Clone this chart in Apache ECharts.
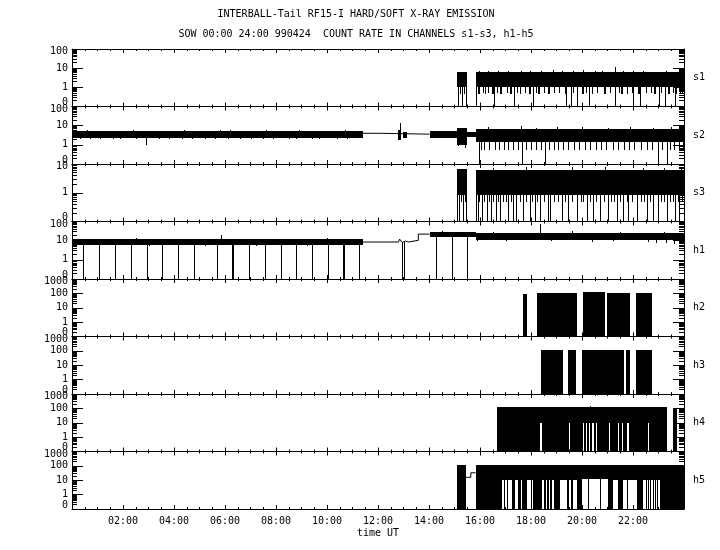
<!DOCTYPE html>
<html><head><meta charset="utf-8">
<script src="https://cdn.jsdelivr.net/npm/echarts@6/dist/echarts.min.js"></script>
<style>html,body{margin:0;padding:0;background:#fff}#c{width:720px;height:550px}</style>
</head><body><div id="c"></div>
<script>
// ---------------- DATA ----------------
const titleLine1 = 'INTERBALL-Tail RF15-I HARD/SOFT X-RAY EMISSION';
const titleLine2 = 'SOW 00:00 24:00 990424  COUNT RATE IN CHANNELS s1-s3, h1-h5';
const channelNames = ['s1','s2','s3','h1','h2','h3','h4','h5'];
const channelMax = [100,100,10,100,1000,1000,1000,1000];
const timeTickLabels = ['02:00','04:00','06:00','08:00','10:00','12:00','14:00','16:00','18:00','20:00','22:00'];
const xAxisTitle = 'time UT';

// blocks: [t0 (h), t1 (h), low count, high count]  (0 = zero count)
// strokes: [t (h), low count, high count]
// traces: [t (h), count]
const s1Blocks = [[15.09,15.50,1.1,6.3],[15.83,24.0,1.1,6.0]];
const s1Strokes = [
 [15.12,0,1.1],[15.29,0,1.1],[15.46,0,1.1],[15.85,0,1.1],[16.56,0,1.1],[17.33,0,1.1],[18.08,0,1.1],[19.37,0,1.1],[19.57,0,1.1],[19.79,0,1.1],[20.29,0,1.1],[21.29,0,1.1],[22.01,0,1.1],[22.27,0,1.1],[23.02,0,1.1],[23.25,0,1.1],[23.65,0,1.1],
 [15.20,0.45,1.1],[15.38,0.45,1.1],[15.92,0.45,1.1],[15.96,0.45,1.1],[16.13,0.5,1.1],[16.21,0.45,1.1],[16.30,0.5,1.1],[16.48,0.45,1.1],[16.52,0.45,1.1],[16.68,0.5,1.1],[16.80,0.45,1.1],[16.84,0.45,1.1],[17.05,0.5,1.1],[17.18,0.45,1.1],[17.22,0.45,1.1],[17.45,0.5,1.1],[17.57,0.45,1.1],[17.75,0.5,1.1],[17.93,0.45,1.1],[17.97,0.45,1.1],[18.20,0.5,1.1],[18.29,0.45,1.1],[18.33,0.45,1.1],[18.50,0.5,1.1],[18.67,0.45,1.1],[18.71,0.45,1.1],[18.90,0.5,1.1],[19.10,0.5,1.1],[19.32,0.45,1.1],[19.36,0.45,1.1],[19.65,0.5,1.1],[19.99,0.45,1.1],[20.03,0.45,1.1],[20.15,0.5,1.1],[20.38,0.45,1.1],[20.60,0.5,1.1],[20.88,0.45,1.1],[20.92,0.45,1.1],[21.10,0.5,1.1],[21.45,0.5,1.1],[21.54,0.45,1.1],[21.58,0.45,1.1],[21.75,0.45,1.1],[21.95,0.5,1.1],[22.21,0.45,1.1],[22.25,0.45,1.1],[22.50,0.5,1.1],[22.70,0.5,1.1],[22.82,0.45,1.1],[22.86,0.45,1.1],[23.10,0.5,1.1],[23.39,0.45,1.1],[23.43,0.45,1.1],[23.55,0.5,1.1],[23.66,0.45,1.1],[23.70,0.45,1.1],[23.85,0.5,1.1],[23.92,0.45,1.1],
 [15.95,5.5,7.0],[16.30,5.5,7.2],[16.70,5.5,6.8],[17.10,5.5,7.4],[17.60,5.5,7.0],[17.95,5.5,7.5],[18.40,5.5,7.2],[18.85,5.5,7.6],[19.20,5.5,7.0],[19.65,5.5,7.3],[20.05,5.5,7.8],[20.50,5.5,7.1],[20.80,5.5,7.4],[21.28,5.5,11.5],[21.60,5.5,7.2],[22.00,5.5,6.8],[22.40,5.5,7.0],[22.90,5.5,6.6],[23.30,5.5,7.0],[23.80,5.5,6.8]
];
const s1Trace = [];

const s2Blocks = [[0.0,11.40,2.3,4.9],[12.80,12.92,2.0,5.5],[12.98,13.15,2.4,4.6],[14.02,15.09,2.4,4.9],[15.09,15.50,1.1,7.0],[15.50,15.83,2.8,4.6],[15.84,24.0,1.5,6.5]];
const s2Trace = [[11.40,4.0],[12.08,4.0],[12.08,3.6],[14.02,3.6]];
const s2Strokes = [
 [12.88,4,14],
 [0.6,4.6,5.6],[1.5,4.6,5.3],[2.4,4.6,5.8],[3.3,4.6,5.4],[4.4,4.6,5.6],[5.3,4.6,5.2],[6.2,4.6,6.0],[7.1,4.6,5.5],[8.0,4.6,5.3],[8.9,4.6,5.7],[9.8,4.6,5.4],[10.7,4.6,5.6],
 [0.9,4.6,5.4],[1.9,4.6,5.5],[2.8,4.6,5.4],[4.0,4.6,5.5],[4.9,4.6,5.4],[5.8,4.6,5.6],[6.7,4.6,5.4],[7.6,4.6,5.6],[8.4,4.6,5.5],[9.3,4.6,5.4],[10.3,4.6,5.5],
 [2.90,1.0,2.6],[0.3,1.9,2.6],[1.1,2.0,2.6],[1.9,2.1,2.6],[3.8,1.9,2.6],[4.7,2.0,2.6],[5.6,2.1,2.6],[6.6,2.0,2.6],[7.5,1.9,2.6],[8.5,2.1,2.6],[9.4,2.0,2.6],[10.4,1.9,2.6],
 [0.7,2.0,2.6],[1.6,2.0,2.6],[2.5,2.0,2.6],[3.4,2.0,2.6],[4.3,2.0,2.6],[5.2,2.0,2.6],[6.1,2.0,2.6],[7.0,2.0,2.6],[7.9,2.0,2.6],[8.8,2.0,2.6],[9.7,2.0,2.6],[10.8,2.0,2.6],
 [15.96,0,1.5],[17.66,0,1.5],[18.55,0,1.5],[22.99,0,1.5],[23.32,0,1.5],
 [15.15,0.86,1.1],[15.40,0.7,1.1],
 [16.02,0.55,1.5],[16.15,0.55,1.5],[16.35,0.55,1.5],[16.60,0.55,1.5],[16.75,0.55,1.5],[16.95,0.55,1.5],[17.10,0.55,1.5],[17.30,0.55,1.5],[17.50,0.55,1.5],[17.80,0.55,1.5],[18.00,0.55,1.5],[18.20,0.55,1.5],[18.40,0.55,1.5],[18.70,0.55,1.5],[18.90,0.55,1.5],[19.05,0.55,1.5],[19.25,0.55,1.5],[19.45,0.55,1.5],[19.70,0.55,1.5],[19.90,0.55,1.5],[20.10,0.55,1.5],[20.30,0.55,1.5],[20.55,0.55,1.5],[20.75,0.55,1.5],[20.95,0.55,1.5],[21.20,0.55,1.5],[21.40,0.55,1.5],[21.65,0.55,1.5],[21.85,0.55,1.5],[22.05,0.55,1.5],[22.30,0.55,1.5],[22.55,0.55,1.5],[22.75,0.55,1.5],[23.15,0.55,1.5],[23.45,0.55,1.5],[23.60,0.55,1.5],[23.80,0.55,1.5],[23.95,0.55,1.5],
 [16.3,6.5,8.5],[17.6,6.5,10.0],[18.2,6.5,8.0],[19.0,6.5,8.2],[20.0,6.5,8.6],[21.0,6.5,8.0],[21.9,6.5,8.4],[22.8,6.5,8.0],[23.5,6.5,8.2]
];

const s3Blocks = [[15.09,15.50,0.9,6.5],[15.84,24.0,0.9,5.8]];
const s3Trace = [];
const s3Strokes = [
 [15.11,0,0.9],[15.19,0,0.9],[15.32,0,0.9],[15.46,0,0.9],[15.85,0,0.9],[15.93,0,0.9],[16.06,0,0.9],[16.26,0,0.9],[16.42,0,0.9],[16.63,0,0.9],[16.78,0,0.9],[17.08,0,0.9],[17.30,0,0.9],[17.43,0,0.9],[17.67,0,0.9],[17.96,0,0.9],[18.16,0,0.9],[18.35,0,0.9],[18.68,0,0.9],[18.75,0,0.9],[19.20,0,0.9],[19.46,0,0.9],[19.79,0,0.9],[20.18,0,0.9],[20.44,0,0.9],[20.71,0,0.9],[21.03,0,0.9],[21.36,0,0.9],[21.62,0,0.9],[21.82,0,0.9],[22.17,0,0.9],[22.54,0,0.9],[22.80,0,0.9],[22.99,0,0.9],[23.32,0,0.9],[23.65,0,0.9],[23.82,0,0.9],
 [15.24,0.49,0.9],[15.40,0.49,0.9],[15.98,0.49,0.9],[16.15,0.49,0.9],[16.35,0.49,0.9],[16.52,0.49,0.9],[16.70,0.49,0.9],[16.90,0.49,0.9],[17.00,0.49,0.9],[17.20,0.49,0.9],[17.55,0.49,0.9],[17.80,0.49,0.9],[18.05,0.49,0.9],[18.25,0.49,0.9],[18.50,0.49,0.9],[18.90,0.49,0.9],[19.05,0.49,0.9],[19.35,0.49,0.9],[19.60,0.49,0.9],[19.95,0.49,0.9],[20.05,0.49,0.9],[20.30,0.49,0.9],[20.55,0.49,0.9],[20.85,0.49,0.9],[21.15,0.49,0.9],[21.25,0.49,0.9],[21.50,0.49,0.9],[21.75,0.49,0.9],[21.95,0.49,0.9],[22.30,0.49,0.9],[22.45,0.49,0.9],[22.65,0.49,0.9],[23.10,0.49,0.9],[23.20,0.49,0.9],[23.45,0.49,0.9],[23.55,0.49,0.9],[23.75,0.49,0.9],[23.92,0.49,0.9],
 [16.5,5.8,7.5],[17.8,5.8,7.8],[19.6,5.8,8.0],[20.9,5.8,7.6],[22.4,5.8,7.4],[23.2,5.8,7.0],[23.9,5.8,7.8]
];

const h1Blocks = [[0.0,11.40,6.2,11.2],[14.02,15.85,17,27],[15.85,24.0,12,25]];
const h1Trace = [[11.40,8.5],[12.80,8.5],[12.85,12],[12.90,15],[12.95,8],[13.00,6.5],[13.08,9.5],[13.12,8.5],[13.19,8.5],[13.19,10.4],[13.58,10.4],[13.58,22],[14.02,22]];
const h1Strokes = [
 [0.43,0,6.2],[1.06,0,6.2],[1.69,0,6.2],[2.31,0,6.2],[2.94,0,6.2],[3.53,0,6.2],[4.16,0,6.2],[4.78,0,6.2],[5.69,0,6.2],[6.29,0,6.2],[6.33,0,6.2],[6.94,0,6.2],[7.57,0,6.2],[8.20,0,6.2],[8.78,0,6.2],[9.41,0,6.2],[10.04,0,6.2],[10.61,0,6.2],[10.65,0,6.2],[11.25,0,6.2],
 [12.96,0,8.5],[13.03,0,8.5],[14.27,0,17],[14.91,0,17],[15.50,0,17],
 [5.84,11,19.7],[1.0,11,12.5],[2.5,11,13],[4.0,11,12.5],[6.8,11,12.8],[8.5,11,12.5],[10.0,11,13],[0.5,11,12.3],[3.2,11,12.6],[7.6,11,12.4],[9.3,11,12.6],
 [3.0,5.5,6.2],[7.2,5.4,6.2],[9.2,5.5,6.2],[1.4,5.6,6.2],[5.2,5.5,6.2],[10.3,5.6,6.2],
 [18.35,24,74],[14.5,26,32],[16.5,24,30],[19.6,24,32],[21.5,24,30],[23.2,21,28],
 [15.9,10,13],[17.0,10,13],[18.8,10,13],[20.4,9,12],[21.2,9.5,12],[22.6,8.5,12],[22.9,7.5,12],[23.3,8,12],[23.6,7,12],[23.9,8,12]
];

const h2Blocks = [[17.67,17.83,0,86],[18.24,19.79,0,100],[20.03,20.90,0,110],[20.98,21.88,0,95],[22.12,22.75,0,100]];
const h3Blocks = [[18.38,19.24,0,100],[19.44,19.75,0,100],[19.99,21.66,0,105],[21.73,21.88,0,100],[22.10,22.75,0,100]];
const h4Blocks = [
 [16.68,23.35,10,112],
 [16.68,18.37,0,10],[18.42,19.48,0,10],[19.53,20.03,0,10],[20.07,20.09,0,10],[20.12,20.15,0,10],[20.19,20.21,0,10],[20.25,20.28,0,10],[20.32,20.41,0,10],[20.46,20.54,0,10],[20.59,21.06,0,10],[21.11,21.42,0,10],[21.47,21.55,0,10],[21.60,21.78,0,10],[21.83,22.57,0,10],[22.62,23.35,0,10],
 [23.55,23.72,0,100]
];
const h4Strokes = [[18.9,112,130],[19.7,112,135],[20.3,112,140],[21.0,112,130],[21.9,112,125],[17.3,112,122]];
const h5Blocks = [
 [15.09,15.45,0,110],[15.83,19.99,12,110],[19.99,21.03,14,110],[21.03,24.0,12,110],
 [15.83,16.85,0,12],[16.93,16.96,0,12],[17.05,17.11,0,12],[17.24,17.37,0,12],[17.50,17.60,0,12],[17.66,17.83,0,12],[17.99,18.02,0,12],[18.09,18.42,0,12],[18.50,18.52,0,12],[18.56,18.58,0,12],[18.62,18.64,0,12],[18.68,18.70,0,12],[18.74,18.76,0,12],[18.80,18.82,0,12],[18.90,19.14,0,12],[19.42,19.50,0,12],[19.56,19.66,0,12],[19.79,19.99,0,12],[20.25,20.28,0,14],[20.70,20.73,0,14],[21.03,21.23,0,12],[21.42,21.62,0,12],[21.75,21.82,0,12],[22.14,22.40,0,12],[22.50,22.53,0,12],[22.58,22.61,0,12],[22.66,22.69,0,12],[22.80,22.83,0,12],[22.88,22.91,0,12],[22.96,22.99,0,12],[23.06,24.0,0,12]
];
const h5Trace = [[15.45,16],[15.64,16],[15.64,33],[15.83,33]];

// ---------------- CHART ----------------
const panels = [
 {blocks:s1Blocks, strokes:s1Strokes, trace:s1Trace},
 {blocks:s2Blocks, strokes:s2Strokes, trace:s2Trace},
 {blocks:s3Blocks, strokes:s3Strokes, trace:s3Trace},
 {blocks:h1Blocks, strokes:h1Strokes, trace:h1Trace},
 {blocks:h2Blocks, strokes:[], trace:[]},
 {blocks:h3Blocks, strokes:[], trace:[]},
 {blocks:h4Blocks, strokes:h4Strokes, trace:[]},
 {blocks:h5Blocks, strokes:[], trace:h5Trace}
];
const FONT = 'DejaVu Sans Mono';
const TOP0 = 49, PH = 57.5, LEFT = 72, RIGHT = 36;
const YMIN = 0.1;
const zf = v => (v <= 0 ? YMIN : v);

function rectRender(params, api){
  const a = api.coord([api.value(0), api.value(3)]);
  const b = api.coord([api.value(1), api.value(2)]);
  const x0 = Math.round(a[0]), x1 = Math.max(Math.round(b[0]), x0 + 1);
  const y0 = Math.floor(a[1]), y1 = Math.ceil(b[1]);
  return {type:'rect', shape:{x:x0, y:y0, width:x1 - x0, height:Math.max(y1 - y0, 1)}, style:{fill:'#000'}};
}
function strokeRender(params, api){
  const a = api.coord([api.value(0), api.value(2)]);
  const b = api.coord([api.value(0), api.value(1)]);
  const x = Math.round(a[0]) + 0.5;
  return {type:'line', shape:{x1:x, y1:Math.round(a[1]), x2:x, y2:Math.round(b[1])}, style:{stroke:'#000', lineWidth:1}};
}

const grids=[], xAxes=[], yAxes=[], series=[];
panels.forEach((p,i)=>{
  const max = channelMax[i];
  grids.push({left:LEFT, right:RIGHT, top:TOP0 + i*PH, height:PH});
  const isLast = i === panels.length - 1;
  const xBase = {type:'value', gridIndex:i, min:0, max:24, interval:2,
    splitLine:{show:false},
    axisLine:{show:true, onZero:false, lineStyle:{color:'#000', width:1}},
    axisTick:{show:true, inside:true, length:4, lineStyle:{color:'#000', width:1}},
    minorTick:{show:true, splitNumber:4, length:2, lineStyle:{color:'#000', width:1}}};
  xAxes.push(Object.assign({}, xBase, {position:'bottom',
    axisLabel: isLast ? {show:true, margin:7, color:'#000', fontFamily:FONT, fontSize:10,
       showMinLabel:false, showMaxLabel:false,
       formatter: v => (v > 0 && v < 24) ? timeTickLabels[Math.round(v/2) - 1] : ''} : {show:false},
    name: isLast ? xAxisTitle : '', nameLocation:'middle', nameGap:19,
    nameTextStyle:{color:'#000', fontFamily:FONT, fontSize:10}}));
  xAxes.push(Object.assign({}, xBase, {position:'top', axisLabel:{show:false}}));

  const minorVals = [];
  for (let d = YMIN; d < max - 1e-9; d *= 10) {
    for (let k = 2; k <= 9; k++) minorVals.push(+(k*d).toPrecision(6));
  }
  const yBase = {type:'log', logBase:10, gridIndex:i, min:YMIN, max:max, splitLine:{show:false}, minorTick:{show:false}};
  const rich = {
    z:{fontFamily:FONT, fontSize:10, color:'#000', lineHeight:8, padding:[0,0,8,0]},
    t:{fontFamily:FONT, fontSize:10, color:'#000', lineHeight:8, padding:[5,0,0,0]},
    n:{fontFamily:FONT, fontSize:10, color:'#000', lineHeight:10}
  };
  yAxes.push(Object.assign({}, yBase, {position:'left',
    axisLine:{show:true, lineStyle:{color:'#000', width:1}},
    axisTick:{show:true, inside:true, length:11, lineStyle:{color:'#000'}},
    axisLabel:{show:true, margin:4, color:'#000', fontFamily:FONT, fontSize:10, showMinLabel:true, showMaxLabel:true,
      hideOverlap:false, rich:rich,
      formatter: v => {
        if (Math.abs(v - YMIN) < 1e-6) return '{z|0}';
        if (Math.abs(v - max) < 1e-6) return '{t|' + max + '}';
        return '{n|' + Math.round(v) + '}';
      }}}));
  yAxes.push(Object.assign({}, yBase, {position:'left',
    axisLine:{show:false}, axisLabel:{show:false},
    axisTick:{show:true, inside:true, length:5, customValues:minorVals, lineStyle:{color:'#000'}}}));
  yAxes.push(Object.assign({}, yBase, {position:'right',
    axisLine:{show:true, lineStyle:{color:'#000', width:1}},
    axisTick:{show:true, inside:true, length:11, lineStyle:{color:'#000'}},
    axisLabel:{show:false},
    name: channelNames[i], nameLocation:'middle', nameRotate:0, nameGap:9,
    nameTextStyle:{color:'#000', fontFamily:FONT, fontSize:10, align:'left'}}));
  yAxes.push(Object.assign({}, yBase, {position:'right',
    axisLine:{show:false}, axisLabel:{show:false},
    axisTick:{show:true, inside:true, length:5, customValues:minorVals, lineStyle:{color:'#000'}}}));

  const xi = 2*i, yi = 4*i;
  if (p.blocks.length) series.push({type:'custom', xAxisIndex:xi, yAxisIndex:yi, clip:true, silent:true,
    renderItem:rectRender, encode:{x:[0,1], y:[2,3]},
    data:p.blocks.map(b => [b[0], b[1], zf(b[2]), zf(b[3])])});
  if (p.strokes.length) series.push({type:'custom', xAxisIndex:xi, yAxisIndex:yi, clip:true, silent:true,
    renderItem:strokeRender, encode:{x:0, y:[1,2]},
    data:p.strokes.map(s => [s[0], zf(s[1]), zf(s[2])])});
  if (p.trace.length) series.push({type:'line', xAxisIndex:xi, yAxisIndex:yi, silent:true,
    symbol:'none', lineStyle:{color:'#000', width:1},
    data:p.trace.map(d => [d[0], zf(d[1])])});
});

const chart = echarts.init(document.getElementById('c'), null, {renderer:'canvas'});
chart.setOption({
  animation:false,
  backgroundColor:'#fff',
  title:[
    {text:titleLine1, left:356, top:9, textAlign:'center', padding:0, textStyle:{fontFamily:FONT, fontSize:10, fontWeight:'normal', color:'#000'}},
    {text:titleLine2, left:356, top:29, textAlign:'center', padding:0, textStyle:{fontFamily:FONT, fontSize:10, fontWeight:'normal', color:'#000'}}
  ],
  grid:grids, xAxis:xAxes, yAxis:yAxes, series:series
});
</script>
</body></html>
